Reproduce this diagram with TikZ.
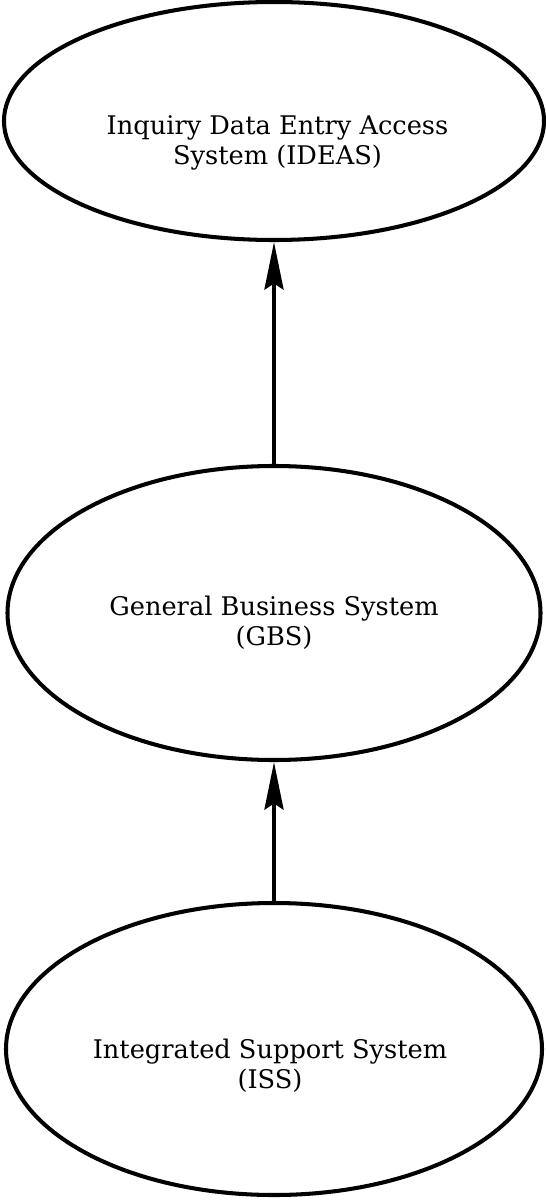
\documentclass[tikz,border=0pt]{standalone}
\usepackage{fontspec}
\setmainfont{DejaVu Serif}
\usepackage{tikz}
\usetikzlibrary{shapes.geometric, arrows.meta, positioning}

\begin{document}
\begin{tikzpicture}[
    sysnode/.style={draw, ellipse, line width=2.3pt, inner sep=0pt},
    lbl/.style={align=center, inner sep=0pt, font=\fontsize{14.6}{17}\selectfont},
    arrow/.style={-{Stealth[length=0.95cm, width=0.38cm, inset=0.12cm]}, line width=2.3pt}
]
    \useasboundingbox (0,0) rectangle (10.9,-24.02);

    \node[sysnode, minimum width=10.8cm, minimum height=4.76cm] (ideas) at (5.48,-2.42) {};
    \node[sysnode, minimum width=10.66cm, minimum height=5.88cm] (gbs) at (5.48,-12.26) {};
    \node[sysnode, minimum width=10.72cm, minimum height=5.84cm] (iss) at (5.48,-20.98) {};

    \node[lbl] (ideaslbl) at (5.55,-2.86) {Inquiry Data Entry Access\\System (IDEAS)};
    \node[lbl] (gbslbl) at (5.48,-12.46) {General Business System\\(GBS)};
    \node[lbl] (isslbl) at (5.40,-21.32) {Integrated Support System\\(ISS)};

    \draw[arrow] (gbs.north) -- (ideas.south);
    \draw[arrow] (iss.north) -- (gbs.south);
\end{tikzpicture}
\end{document}
